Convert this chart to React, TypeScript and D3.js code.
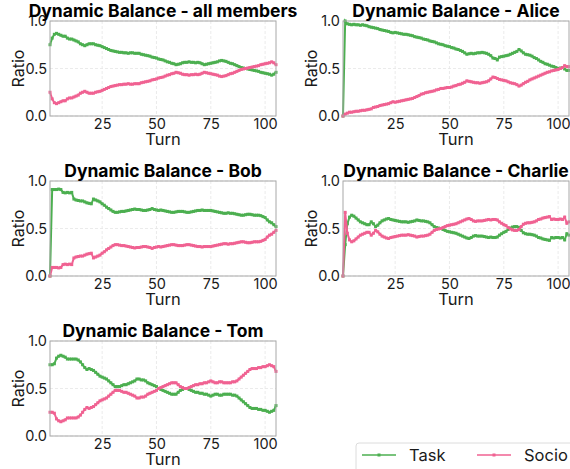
import { useEffect, useRef } from 'react';
import * as d3 from 'd3';

const turns = d3.range(1, 106);
const xTicks = [25, 50, 75, 100];
const yTicks = [0, 0.5, 1];
const seriesNames = ['Task', 'Socio'];

const allTask = [
  .75, .82, .86, .87, .86, .85, .84, .84, .82, .81,
  .81, .80, .79, .78, .76, .75, .74, .75, .76, .76,
  .76, .75, .745, .74, .73, .72, .71, .70, .69, .685,
  .68, .675, .67, .67, .665, .665, .66, .665, .665, .66,
  .66, .66, .65, .645, .64, .635, .63, .62, .615, .61,
  .60, .595, .59, .58, .57, .565, .555, .55, .54, .545,
  .55, .56, .565, .565, .57, .565, .565, .56, .565, .56,
  .55, .54, .545, .55, .555, .56, .565, .57, .58, .585,
  .58, .575, .565, .555, .55, .54, .53, .52, .51, .505,
  .50, .495, .49, .485, .48, .475, .47, .46, .455, .45,
  .445, .44, .43, .44, .46,
];
const allSocio = [
  .25, .18, .14, .13, .14, .15, .16, .16, .18, .19,
  .19, .20, .21, .22, .24, .25, .26, .25, .24, .24,
  .24, .25, .255, .26, .27, .28, .29, .30, .31, .315,
  .32, .325, .33, .33, .335, .335, .34, .335, .335, .34,
  .34, .34, .35, .355, .36, .365, .37, .38, .385, .39,
  .40, .405, .41, .42, .43, .435, .445, .45, .46, .455,
  .45, .44, .435, .435, .43, .435, .435, .44, .435, .44,
  .45, .46, .455, .45, .445, .44, .435, .43, .42, .415,
  .42, .425, .435, .445, .45, .46, .47, .48, .49, .495,
  .50, .505, .51, .515, .52, .525, .53, .54, .545, .55,
  .555, .56, .57, .56, .54,
];

const aliceTask = [
  0, 1.0, .97, .965, .96, .965, .96, .96, .955, .96,
  .955, .95, .94, .935, .93, .925, .92, .91, .905, .90,
  .895, .89, .88, .875, .88, .875, .87, .865, .86, .86,
  .855, .85, .845, .835, .83, .825, .82, .81, .805, .80,
  .79, .785, .78, .77, .76, .755, .75, .74, .735, .73,
  .72, .715, .705, .70, .69, .68, .665, .65, .655, .66,
  .655, .66, .665, .665, .67, .665, .66, .65, .635, .61,
  .605, .59, .62, .625, .63, .635, .64, .65, .66, .67,
  .68, .70, .685, .665, .65, .645, .64, .63, .615, .605,
  .59, .575, .565, .55, .545, .535, .525, .52, .51, .50,
  .505, .51, .495, .48, .48,
];
const aliceSocio = [
  0, .02, .03, .04, .04, .045, .05, .05, .055, .06,
  .06, .065, .07, .075, .09, .095, .10, .11, .115, .12,
  .125, .13, .14, .15, .145, .15, .155, .16, .165, .17,
  .175, .18, .185, .195, .205, .215, .23, .235, .245, .25,
  .255, .26, .265, .275, .28, .29, .29, .295, .30, .30,
  .305, .315, .32, .33, .335, .345, .355, .37, .365, .36,
  .355, .35, .35, .345, .35, .355, .36, .37, .39, .41,
  .405, .395, .385, .38, .375, .37, .36, .35, .345, .34,
  .33, .315, .325, .34, .355, .365, .38, .39, .40, .41,
  .42, .43, .44, .45, .46, .465, .475, .48, .485, .49,
  .50, .51, .53, .52, .52,
];

const bobTask = [
  0, .91, .91, .91, .915, .91, .88, .875, .88, .875,
  .88, .81, .80, .795, .79, .79, .78, .77, .765, .76,
  .81, .80, .79, .78, .76, .745, .725, .71, .695, .68,
  .67, .67, .675, .68, .68, .685, .69, .695, .70, .705,
  .70, .70, .695, .69, .69, .695, .70, .71, .70, .695,
  .69, .695, .69, .685, .68, .675, .67, .67, .675, .68,
  .68, .68, .675, .67, .67, .675, .68, .685, .69, .69,
  .695, .69, .69, .69, .69, .685, .68, .675, .67, .665,
  .66, .66, .665, .66, .66, .655, .65, .645, .64, .64,
  .645, .65, .65, .645, .64, .64, .64, .635, .625, .615,
  .59, .57, .56, .54, .52,
];
const bobSocio = [
  0, .09, .09, .09, .085, .09, .12, .125, .12, .125,
  .12, .19, .20, .205, .21, .21, .22, .23, .235, .24,
  .19, .20, .21, .22, .24, .255, .275, .29, .305, .32,
  .33, .33, .325, .32, .32, .315, .31, .305, .30, .295,
  .30, .30, .305, .31, .31, .305, .30, .29, .30, .305,
  .31, .305, .31, .315, .32, .325, .33, .33, .325, .32,
  .32, .32, .325, .33, .33, .325, .32, .315, .31, .31,
  .305, .31, .31, .31, .31, .315, .32, .325, .33, .335,
  .34, .34, .335, .34, .34, .345, .35, .355, .36, .36,
  .355, .35, .35, .355, .36, .36, .36, .365, .375, .385,
  .41, .43, .44, .46, .48,
];

const charlieTask = [
  0, .33, .55, .62, .64, .63, .61, .59, .57, .56,
  .55, .54, .54, .57, .55, .52, .535, .56, .58, .59,
  .60, .605, .595, .59, .585, .58, .575, .57, .57, .57,
  .565, .57, .575, .58, .59, .585, .58, .58, .575, .57,
  .56, .54, .52, .51, .505, .50, .49, .48, .47, .465,
  .46, .455, .45, .44, .43, .42, .41, .40, .395, .405,
  .42, .425, .42, .42, .42, .415, .41, .405, .41, .405,
  .405, .41, .43, .445, .46, .47, .49, .505, .515, .52,
  .52, .51, .48, .455, .445, .44, .44, .435, .43, .42,
  .405, .40, .39, .385, .38, .375, .405, .40, .405, .405,
  .40, .405, .38, .445, .43,
];
const charlieSocio = [
  0, .67, .45, .38, .36, .37, .39, .41, .43, .44,
  .45, .46, .46, .43, .45, .48, .465, .44, .42, .41,
  .40, .395, .405, .41, .415, .42, .425, .43, .43, .43,
  .435, .43, .425, .42, .41, .415, .42, .42, .425, .43,
  .44, .46, .48, .49, .495, .50, .51, .52, .53, .535,
  .54, .545, .55, .56, .57, .58, .59, .60, .605, .595,
  .58, .575, .58, .58, .58, .585, .59, .595, .59, .595,
  .595, .59, .57, .555, .54, .53, .51, .495, .485, .48,
  .48, .49, .52, .545, .555, .56, .56, .565, .57, .58,
  .595, .60, .61, .615, .62, .625, .595, .60, .595, .595,
  .60, .595, .62, .555, .57,
];

const tomTask = [
  .75, .75, .76, .82, .84, .85, .84, .83, .81, .81,
  .81, .81, .81, .80, .78, .75, .72, .70, .71, .70,
  .69, .67, .65, .63, .62, .61, .60, .58, .56, .54,
  .52, .52, .52, .53, .54, .54, .55, .56, .57, .58,
  .60, .60, .59, .59, .58, .56, .55, .54, .53, .52,
  .50, .49, .48, .47, .46, .45, .44, .44, .44, .46,
  .48, .49, .50, .50, .49, .48, .47, .46, .46, .45,
  .45, .44, .44, .43, .42, .43, .44, .44, .43, .43,
  .44, .44, .44, .44, .43, .43, .42, .40, .38, .36,
  .34, .32, .30, .29, .29, .29, .28, .28, .27, .27,
  .26, .25, .26, .27, .32,
];
const tomSocio = [
  .25, .25, .24, .18, .16, .15, .16, .17, .19, .19,
  .19, .19, .19, .20, .22, .25, .28, .30, .29, .30,
  .31, .33, .35, .37, .38, .39, .40, .42, .44, .46,
  .48, .48, .48, .47, .46, .46, .45, .44, .43, .42,
  .40, .40, .41, .41, .42, .44, .45, .46, .47, .48,
  .50, .51, .52, .53, .54, .55, .56, .56, .56, .54,
  .52, .51, .50, .50, .51, .52, .53, .54, .54, .55,
  .55, .56, .56, .57, .58, .57, .56, .56, .57, .57,
  .56, .56, .56, .56, .57, .57, .58, .60, .62, .64,
  .66, .68, .70, .71, .71, .71, .72, .72, .73, .73,
  .74, .75, .74, .73, .68,
];

const panels = [
  { title: 'Dynamic Balance - all members', task: allTask, socio: allSocio },
  { title: 'Dynamic Balance - Alice', task: aliceTask, socio: aliceSocio },
  { title: 'Dynamic Balance - Bob', task: bobTask, socio: bobSocio },
  { title: 'Dynamic Balance - Charlie', task: charlieTask, socio: charlieSocio },
  { title: 'Dynamic Balance - Tom', task: tomTask, socio: tomSocio },
];

const taskColor = '#4caf50';
const socioColor = '#f06292';
const font = 'Inter, "DejaVu Sans", sans-serif';

export default function App() {
  const svgRef = useRef<SVGSVGElement>(null);
  const width = 570;
  const height = 469;

  useEffect(() => {
    if (!svgRef.current) return;
    const svg = d3.select(svgRef.current);
    svg.selectAll('*').remove();

    // grid position of each subplot
    const boxes = [
      { left: 50, top: 21 },
      { left: 343, top: 21 },
      { left: 50, top: 181 },
      { left: 343, top: 181 },
      { left: 50, top: 341 },
    ];
    const pw = 226;
    const ph = 95;

    panels.forEach((p, i) => {
      const g = svg.append('g').attr('transform', `translate(${boxes[i].left},${boxes[i].top})`);

      const x = d3.scaleLinear().domain([1, 105]).range([0, pw]);
      const y = d3.scaleLinear().domain([0, 1]).range([ph, 0]);

      // grid
      g.selectAll('.gx')
        .data(xTicks)
        .join('line')
        .attr('x1', d => x(d))
        .attr('x2', d => x(d))
        .attr('y1', 0)
        .attr('y2', ph)
        .attr('stroke', '#e6e6e6')
        .attr('stroke-width', 0.8)
        .attr('stroke-dasharray', '3,2');
      g.selectAll('.gy')
        .data(yTicks)
        .join('line')
        .attr('x1', 0)
        .attr('x2', pw)
        .attr('y1', d => y(d))
        .attr('y2', d => y(d))
        .attr('stroke', '#e6e6e6')
        .attr('stroke-width', 0.8)
        .attr('stroke-dasharray', '3,2');

      const line = d3
        .line<number>()
        .x((_, j) => x(turns[j]))
        .y(d => y(d));

      [
        { vals: p.task, color: taskColor },
        { vals: p.socio, color: socioColor },
      ].forEach(s => {
        g.append('path')
          .attr('d', line(s.vals))
          .attr('fill', 'none')
          .attr('stroke', s.color)
          .attr('stroke-width', 2);
        g.append('g')
          .selectAll('rect')
          .data(s.vals)
          .join('rect')
          .attr('x', (_, j) => x(turns[j]) - 1.5)
          .attr('y', d => y(d) - 1.5)
          .attr('width', 3)
          .attr('height', 3)
          .attr('fill', s.color);
      });

      // frame
      g.append('rect')
        .attr('width', pw)
        .attr('height', ph)
        .attr('fill', 'none')
        .attr('stroke', '#a8a8a8')
        .attr('stroke-width', 1);

      const xa = g
        .append('g')
        .attr('transform', `translate(0,${ph})`)
        .call(d3.axisBottom(x).tickValues(xTicks).tickSize(0).tickPadding(3).tickFormat(d3.format('d')));
      const ya = g
        .append('g')
        .call(d3.axisLeft(y).tickValues(yTicks).tickSize(0).tickPadding(3).tickFormat(d3.format('.1f')));
      [xa, ya].forEach(a => {
        a.select('.domain').remove();
        a.selectAll('text')
          .style('font-family', font)
          .style('font-size', '14.5px')
          .style('fill', '#1a1a1a');
      });

      g.append('text')
        .attr('x', pw / 2)
        .attr('y', ph + 29)
        .attr('text-anchor', 'middle')
        .style('font-family', font)
        .style('font-size', '16.5px')
        .style('fill', '#1a1a1a')
        .text('Turn');

      g.append('text')
        .attr('transform', 'rotate(-90)')
        .attr('x', -ph / 2)
        .attr('y', -26)
        .attr('text-anchor', 'middle')
        .style('font-family', font)
        .style('font-size', '16px')
        .style('fill', '#1a1a1a')
        .text('Ratio');

      g.append('text')
        .attr('x', pw / 2)
        .attr('y', -4)
        .attr('text-anchor', 'middle')
        .style('font-family', font)
        .style('font-size', '17.5px')
        .style('font-weight', '700')
        .style('fill', '#000')
        .text(p.title);
    });

    // legend
    const lg = svg.append('g').attr('transform', 'translate(356,443)');
    lg.append('rect')
      .attr('width', 230)
      .attr('height', 40)
      .attr('rx', 3)
      .attr('fill', '#fff')
      .attr('stroke', '#dcdcdc');
    [taskColor, socioColor].forEach((c, i) => {
      const ox = 6 + i * 115;
      lg.append('line')
        .attr('x1', ox)
        .attr('x2', ox + 34)
        .attr('y1', 12)
        .attr('y2', 12)
        .attr('stroke', c)
        .attr('stroke-width', 1.6);
      lg.append('rect').attr('x', ox + 15.5).attr('y', 10.5).attr('width', 3).attr('height', 3).attr('fill', c);
      lg.append('text')
        .attr('x', ox + 47)
        .attr('y', 18)
        .style('font-family', font)
        .style('font-size', '16.5px')
        .style('fill', '#1a1a1a')
        .text(seriesNames[i]);
    });
  }, []);

  return (
    <svg
      ref={svgRef}
      width={width}
      height={height}
      style={{ position: 'absolute', left: 0, top: 0, background: '#fff' }}
    />
  );
}
